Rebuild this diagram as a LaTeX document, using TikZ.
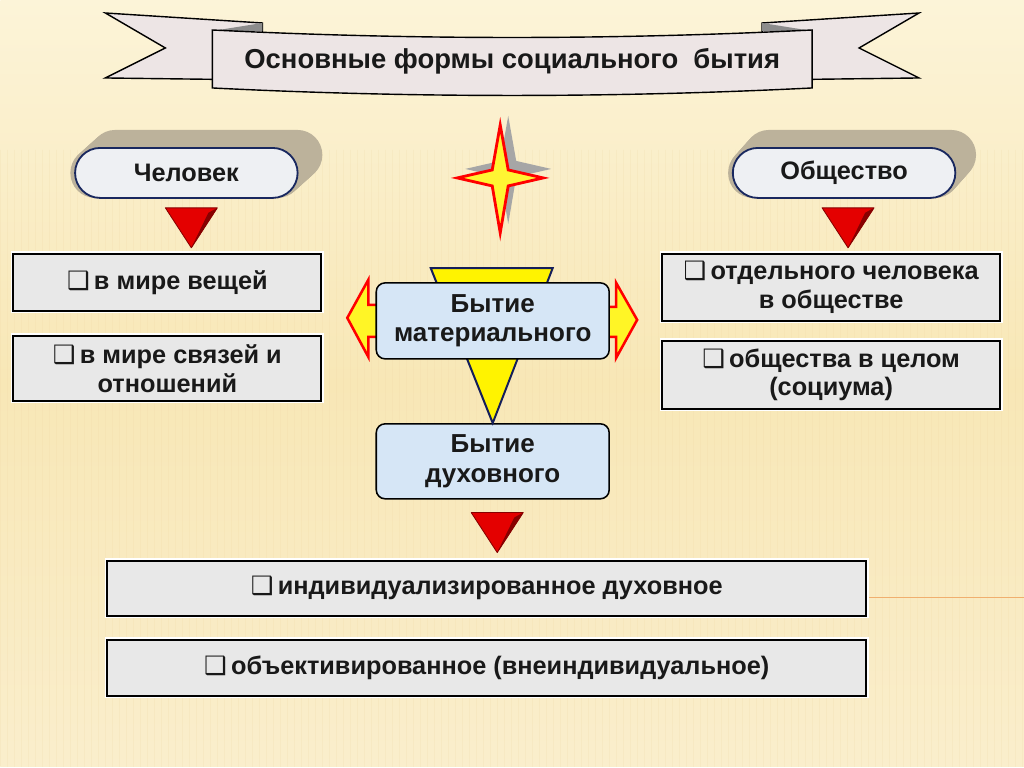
\documentclass[tikz,border=0pt]{standalone}
\usepackage{fontspec}
\setmainfont{Liberation Sans}
\newfontfamily\symfont{DejaVu Sans}
\usetikzlibrary{positioning,calc,shapes.misc}
\newcommand{\sqbul}{{\symfont\normalfont\symfont ❑}\,}
\definecolor{bgtop}{RGB}{252,244,216}
\definecolor{bgmid}{RGB}{248,231,182}
\definecolor{bgbot}{RGB}{250,238,204}
\definecolor{ribbon}{RGB}{237,229,229}
\definecolor{pillfill}{RGB}{238,240,243}
\definecolor{pillline}{RGB}{25,40,95}
\definecolor{extrude}{RGB}{188,178,155}
\definecolor{grayfill}{RGB}{232,232,232}
\definecolor{bluefill}{RGB}{214,230,246}
\definecolor{ylw}{RGB}{255,243,0}
\definecolor{navy}{RGB}{20,30,90}
\definecolor{redA}{RGB}{228,0,0}
\definecolor{redB}{RGB}{135,0,0}
\definecolor{orng}{RGB}{240,175,110}

\begin{document}
\begin{tikzpicture}[
      x=0.25mm,y=-0.25mm,
      every node/.style={font=\bfseries,text=black!90},
      pill/.style={draw=pillline,line width=1.3pt,fill=pillfill,rounded rectangle,
        minimum width=58mm,minimum height=12.5mm,font=\fontsize{18}{21}\bfseries},
      gbox/.style={draw=black,line width=1.3pt,fill=grayfill,
        preaction={draw=white,line width=3.6pt},
        align=center,inner sep=2pt,font=\fontsize{18}{20.5}\bfseries},
      bbox/.style={draw=black,line width=1.1pt,fill=bluefill,rounded corners=2.2mm,
        minimum width=58.25mm,align=center,font=\fontsize{18.5}{21}\bfseries},
      redtri/.style={fill=redA,draw=redB,line width=0.6pt,line join=round},
      ytri/.style={fill=ylw,draw=navy,line width=1.4pt,line join=miter},
      yarr/.style={fill=ylw!85!white,draw=red,line width=1.8pt,line join=miter},
      ribbon/.style={fill=ribbon,draw=black,line width=1pt,line join=miter}
    ]
    % background
    \shade[top color=bgtop,bottom color=bgbot,middle color=bgmid] (0,0) rectangle (1024,767);
    \foreach \i in {0,7,...,1024}{\draw[bgmid!85!brown,opacity=0.2,line width=0.6pt] (\i,150) -- (\i,767);}
    \useasboundingbox (0,0) rectangle (1024,767);

    % title ribbon
    \draw[ribbon] (105,13) -- (262,23) -- (262,80) -- (105,78) -- (165,48) -- cycle;
    \draw[ribbon] (919,13) -- (762,23) -- (762,80) -- (919,78) -- (859,48) -- cycle;
    \fill[black!45] (262,23) -- (262,31) -- (212,31) -- cycle;
    \fill[black!45] (762,23) -- (762,31) -- (812,31) -- cycle;
    \draw[ribbon] (212,30) .. controls (412,40) and (612,40) .. (812,30) -- (812,88)
      .. controls (612,98) and (412,98) .. (212,88) -- cycle;
    \node[font=\fontsize{19.5}{22}\bfseries] (title) at (512,61) {Основные формы социального \ бытия};

    % star
    \coordinate (star) at (500,178);
    \fill[black!35,shift={(8,-9)}] (500,125) -- (508,170) -- (543,178) -- (508,186) -- (500,233)
      -- (492,186) -- (457,178) -- (492,170) -- cycle;
    \draw[fill=ylw!80!white,draw=red,line width=2pt,line join=miter]
      (star) ++(0,-53) -- ++(8,45) -- ++(35,8) -- ++(-35,8) -- ++(-8,47)
      -- ++(-8,-47) -- ++(-35,-8) -- ++(35,-8) -- cycle;

    % top pills (raised edge swept first)
    \foreach \s in {0,0.1,...,1.01}{
      \fill[extrude,rounded corners=6.2mm] (70+20*\s,198-18*\s) rectangle (302+20*\s,148-18*\s);
      \fill[extrude,rounded corners=6.2mm] (728+16*\s,198-18*\s) rectangle (960+16*\s,148-18*\s);}
    \node[pill] (chel) at (186,173) {Человек};
    \node[pill] (obsh) at (844,173) {Общество};

    % left column
    \node[gbox,minimum width=77mm,minimum height=14.25mm] (veshch) at (167,282.5) {\sqbul в мире вещей};
    \node[gbox,minimum width=77mm,minimum height=16.25mm] (svyaz) at (167,368.5) {\sqbul в мире связей и\\отношений};
    % right column
    \node[gbox,minimum width=84.5mm,minimum height=16.75mm] (otdel) at (831,287.5) {\sqbul отдельного человека\\в обществе};
    \node[gbox,minimum width=84.5mm,minimum height=17mm] (socium) at (831,375) {\sqbul общества в целом\\(социума)};

    % centre
    \node[bbox,minimum height=18.75mm] (dukh) at (492.5,461.5) {Бытие\\духовного};
    \draw[ytri] ($(dukh.north)+(-62,-155)$) -- ($(dukh.north)+(60,-155)$) -- (dukh.north) -- cycle;
    \draw[yarr] (400,305) -- (368,305) -- (368,280) -- (347,318) -- (368,357) -- (368,337) -- (400,337);
    \draw[yarr] (590,307) -- (616,307) -- (616,283) -- (637,320) -- (616,358) -- (616,337) -- (590,337);
    \node[bbox,minimum height=19mm] (mater) at (492.5,321) {Бытие\\материального};

    % bottom rows
    \draw[orng,line width=0.8pt] (866,598) -- (1024,598);
    \node[gbox,minimum width=189.75mm,minimum height=13.75mm] (indiv) at (486.5,588.5) {\sqbul индивидуализированное духовное};
    \node[gbox,minimum width=189.75mm,minimum height=14mm] (obekt) at (486.5,668) {\sqbul объективированное (внеиндивидуальное)};

    % red pointers
    \foreach \a/\dx/\top/\tip in {chel/5/9/49, obsh/4/9/49, dukh/4.5/13/53}{
      \draw[redtri] ($(\a.south)+(\dx-26,\top)$) -- ($(\a.south)+(\dx+26,\top)$) -- ($(\a.south)+(\dx,\tip)$) -- cycle;
      \fill[redB] ($(\a.south)+(\dx+26,\top)$) -- ($(\a.south)+(\dx,\tip)$) -- ($(\a.south)+(\dx+17,\top+5)$) -- cycle;}
  \end{tikzpicture}
\end{document}
